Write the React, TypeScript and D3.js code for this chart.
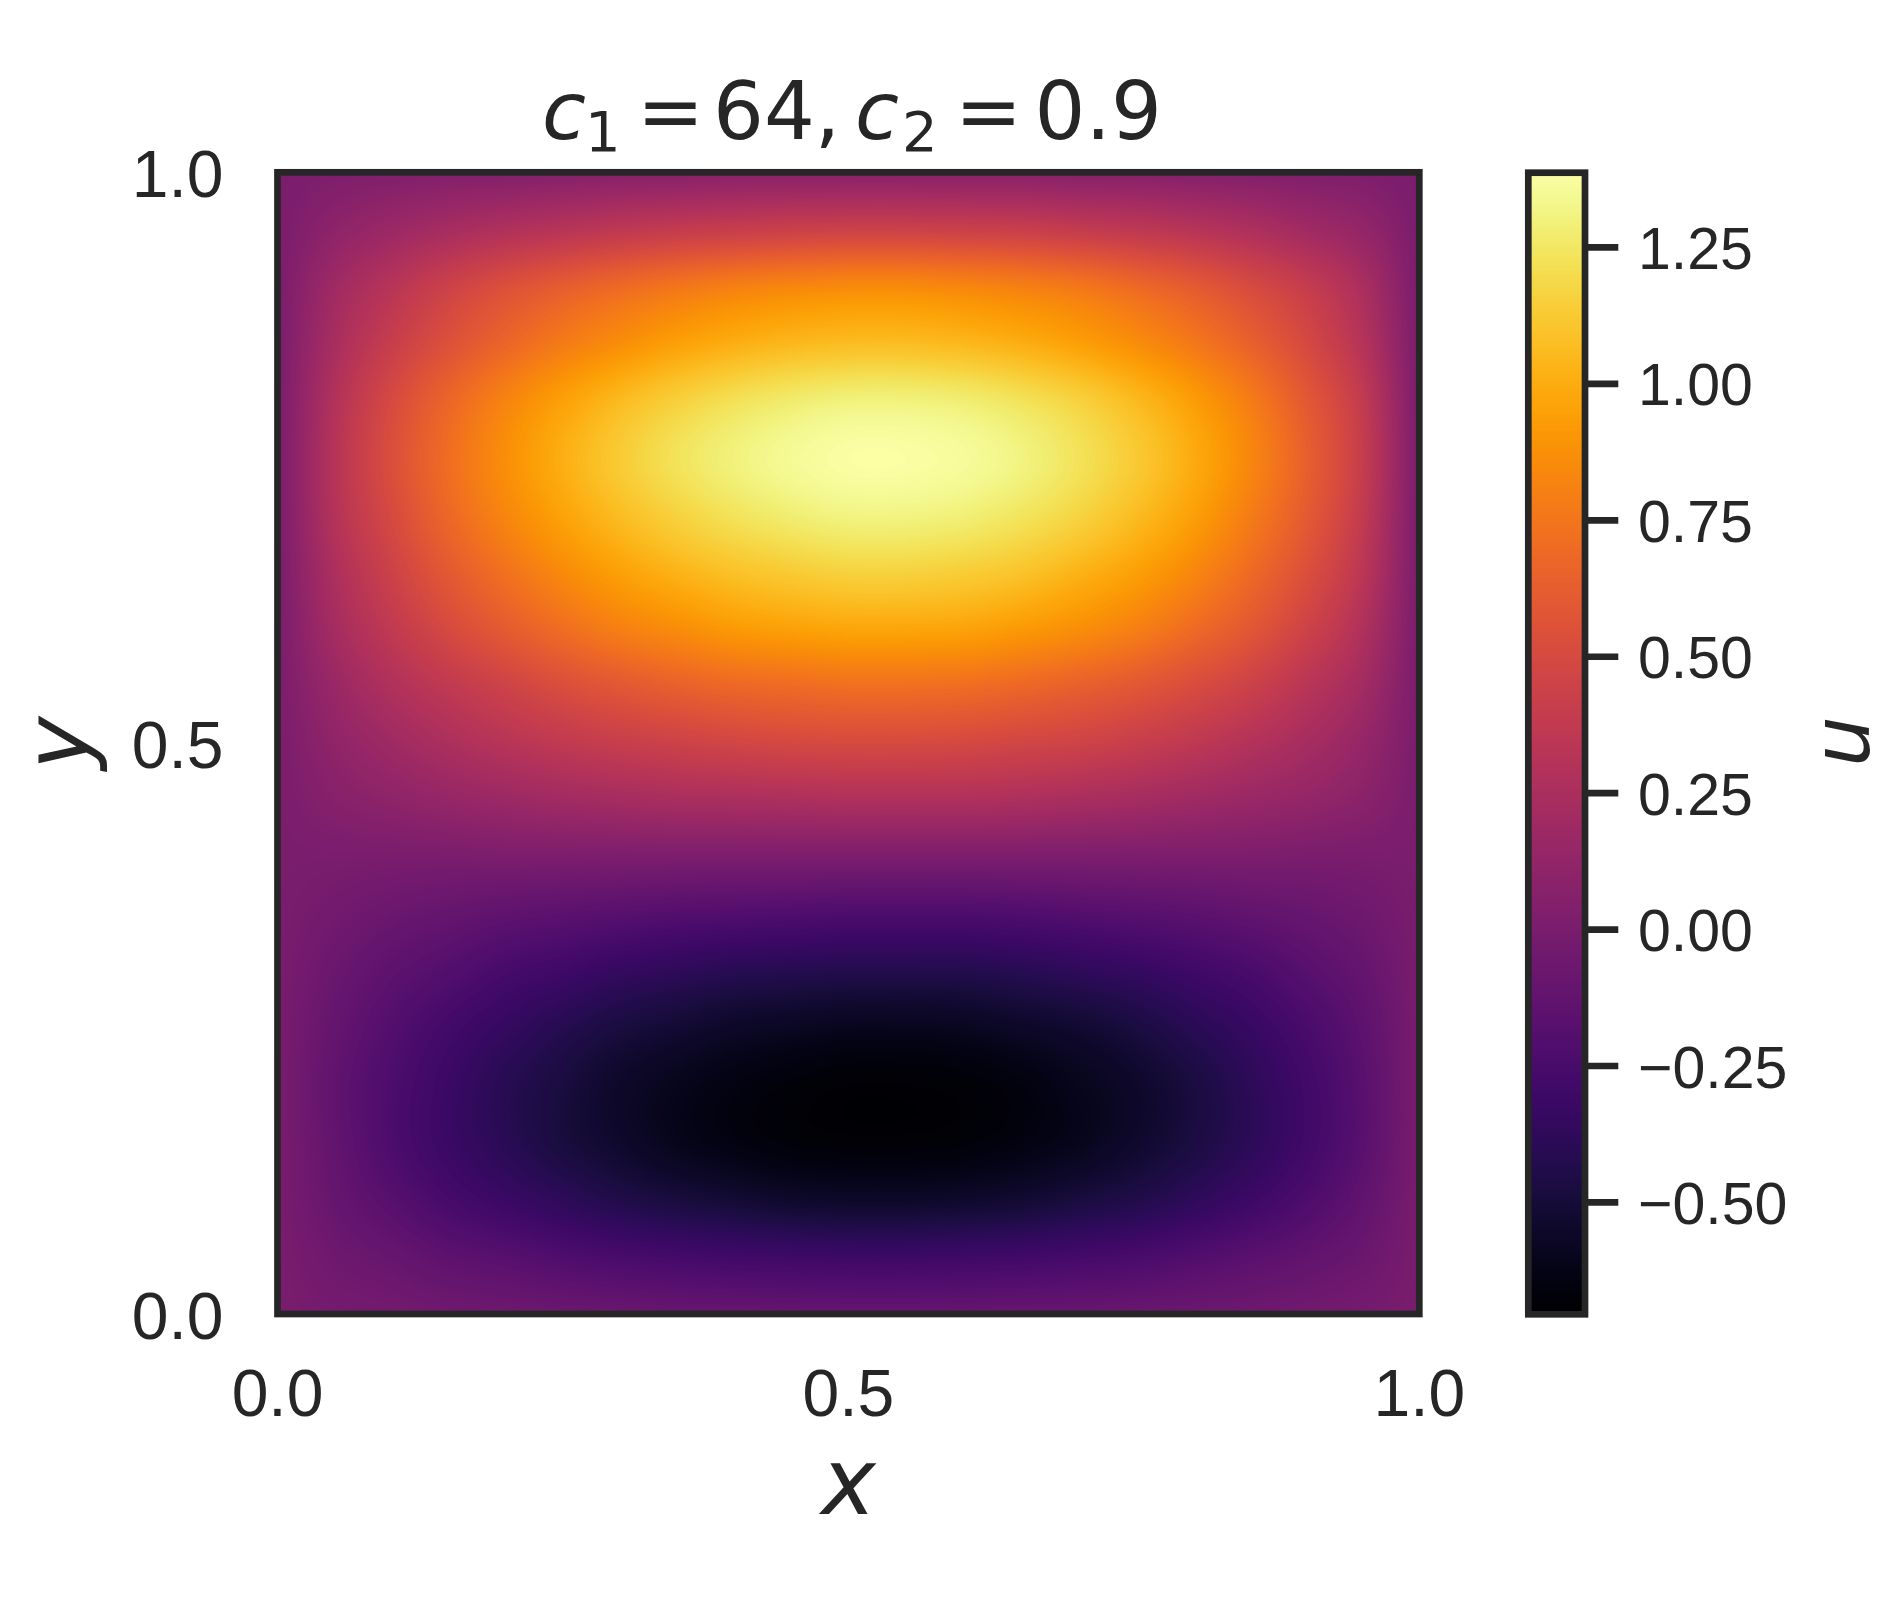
import React, { useMemo } from "react";
import * as d3 from "d3";

// Grid nodes (data coordinates)
const xNodes = [0, 0.05, 0.1, 0.15, 0.2, 0.25, 0.3, 0.35, 0.4, 0.45, 0.5, 0.55, 0.6, 0.65, 0.7, 0.75, 0.8, 0.85, 0.9, 0.95, 1.0];
const yNodes = [0, 0.05, 0.1, 0.15, 0.2, 0.25, 0.3, 0.35, 0.4, 0.45, 0.5, 0.55, 0.6, 0.65, 0.7, 0.75, 0.8, 0.85, 0.9, 0.95, 1.0];

// u(x, y): one row per yNodes entry (bottom to top), one column per xNodes entry
const uGrid = [
  [0, -0.02, -0.03, -0.05, -0.06, -0.07, -0.08, -0.09, -0.09, -0.10, -0.10, -0.10, -0.10, -0.09, -0.09, -0.08, -0.07, -0.06, -0.04, -0.02, 0],
  [0, -0.06, -0.10, -0.15, -0.18, -0.22, -0.25, -0.27, -0.29, -0.30, -0.31, -0.31, -0.30, -0.29, -0.27, -0.25, -0.21, -0.17, -0.13, -0.08, 0],
  [0, -0.10, -0.18, -0.26, -0.32, -0.38, -0.44, -0.48, -0.51, -0.54, -0.55, -0.55, -0.54, -0.52, -0.48, -0.44, -0.38, -0.31, -0.23, -0.13, 0],
  [0, -0.12, -0.23, -0.32, -0.40, -0.48, -0.54, -0.60, -0.64, -0.67, -0.68, -0.68, -0.67, -0.64, -0.60, -0.54, -0.47, -0.39, -0.29, -0.17, 0],
  [0, -0.13, -0.23, -0.32, -0.41, -0.48, -0.55, -0.60, -0.64, -0.67, -0.69, -0.69, -0.68, -0.65, -0.60, -0.55, -0.48, -0.39, -0.29, -0.17, 0],
  [0, -0.11, -0.20, -0.28, -0.35, -0.42, -0.48, -0.52, -0.56, -0.58, -0.60, -0.60, -0.59, -0.56, -0.53, -0.48, -0.41, -0.34, -0.25, -0.15, 0],
  [0, -0.08, -0.15, -0.20, -0.26, -0.30, -0.35, -0.38, -0.41, -0.42, -0.43, -0.43, -0.43, -0.41, -0.38, -0.35, -0.30, -0.25, -0.18, -0.11, 0],
  [0, -0.04, -0.08, -0.11, -0.14, -0.16, -0.18, -0.20, -0.21, -0.22, -0.23, -0.23, -0.23, -0.22, -0.20, -0.18, -0.16, -0.13, -0.10, -0.06, 0],
  [0, 0.00, 0.00, 0.00, 0.01, 0.01, 0.01, 0.01, 0.01, 0.01, 0.01, 0.01, 0.01, 0.01, 0.01, 0.01, 0.01, 0.01, 0.00, 0.00, 0],
  [0, 0.06, 0.10, 0.14, 0.17, 0.20, 0.22, 0.24, 0.25, 0.26, 0.27, 0.27, 0.27, 0.26, 0.24, 0.22, 0.19, 0.16, 0.13, 0.08, 0],
  [0, 0.11, 0.19, 0.26, 0.32, 0.37, 0.41, 0.44, 0.47, 0.49, 0.50, 0.50, 0.49, 0.47, 0.45, 0.41, 0.36, 0.30, 0.23, 0.14, 0],
  [0, 0.16, 0.28, 0.37, 0.45, 0.53, 0.59, 0.64, 0.68, 0.70, 0.72, 0.72, 0.71, 0.68, 0.64, 0.59, 0.52, 0.44, 0.33, 0.21, 0],
  [0, 0.22, 0.37, 0.50, 0.61, 0.71, 0.80, 0.86, 0.92, 0.95, 0.97, 0.97, 0.96, 0.92, 0.87, 0.80, 0.70, 0.59, 0.45, 0.28, 0],
  [0, 0.26, 0.44, 0.60, 0.73, 0.85, 0.95, 1.03, 1.09, 1.13, 1.16, 1.16, 1.14, 1.10, 1.03, 0.95, 0.84, 0.70, 0.54, 0.34, 0],
  [0, 0.30, 0.50, 0.68, 0.83, 0.96, 1.07, 1.16, 1.23, 1.28, 1.31, 1.31, 1.29, 1.24, 1.17, 1.07, 0.95, 0.79, 0.61, 0.38, 0],
  [0, 0.31, 0.53, 0.71, 0.87, 1.01, 1.13, 1.23, 1.30, 1.35, 1.38, 1.38, 1.36, 1.31, 1.23, 1.13, 1.00, 0.84, 0.64, 0.40, 0],
  [0, 0.29, 0.50, 0.67, 0.82, 0.95, 1.06, 1.15, 1.22, 1.27, 1.30, 1.30, 1.28, 1.23, 1.16, 1.06, 0.94, 0.79, 0.60, 0.38, 0],
  [0, 0.24, 0.41, 0.55, 0.67, 0.78, 0.87, 0.95, 1.01, 1.05, 1.07, 1.07, 1.05, 1.01, 0.95, 0.87, 0.77, 0.65, 0.50, 0.31, 0],
  [0, 0.19, 0.32, 0.44, 0.54, 0.62, 0.69, 0.75, 0.80, 0.83, 0.85, 0.85, 0.83, 0.80, 0.76, 0.69, 0.61, 0.51, 0.40, 0.25, 0],
  [0, 0.10, 0.17, 0.23, 0.28, 0.32, 0.36, 0.39, 0.41, 0.43, 0.44, 0.44, 0.43, 0.42, 0.39, 0.36, 0.32, 0.27, 0.20, 0.13, 0],
  [0, 0.02, 0.03, 0.04, 0.04, 0.05, 0.06, 0.06, 0.07, 0.07, 0.07, 0.07, 0.07, 0.07, 0.06, 0.06, 0.05, 0.04, 0.03, 0.02, 0],
];

const xTicks = [0.0, 0.5, 1.0];
const yTicks = [0.0, 0.5, 1.0];
const colorTicks = [-0.5, -0.25, 0.0, 0.25, 0.5, 0.75, 1.0, 1.25];
const colorDomain = [-0.705, 1.387];

const INK = "#262626";
const SANS = "'Liberation Sans', Arial, sans-serif";
const MATH = "'DejaVu Sans', sans-serif";

// layout
const AX = { left: 277.5, right: 1419.3, top: 172.3, bottom: 1314 };
const CB = { left: 1528.3, right: 1585, top: 172.7, bottom: 1314.3 };
const SPINE = 6.7;

function cubic(p0: number, p1: number, p2: number, p3: number, t: number) {
  const t2 = t * t, t3 = t2 * t;
  return 0.5 * (2 * p1 + (-p0 + p2) * t + (2 * p0 - 5 * p1 + 4 * p2 - p3) * t2 + (-p0 + 3 * p1 - 3 * p2 + p3) * t3);
}

function interp1(nodes: number[], vals: number[], x: number) {
  const n = nodes.length;
  const step = (nodes[n - 1] - nodes[0]) / (n - 1);
  let f = (x - nodes[0]) / step;
  let i = Math.floor(f);
  if (i < 0) i = 0;
  if (i > n - 2) i = n - 2;
  const t = f - i;
  const p1 = vals[i], p2 = vals[i + 1];
  const p0 = i > 0 ? vals[i - 1] : 2 * p1 - p2;
  const p3 = i + 2 < n ? vals[i + 2] : 2 * p2 - p1;
  return cubic(p0, p1, p2, p3, t);
}

function makeLUT(color: d3.ScaleSequential<string>) {
  const N = 1024;
  const lut = new Uint8ClampedArray(N * 3);
  const [a, b] = color.domain();
  for (let k = 0; k < N; k++) {
    const c = d3.rgb(color(a + ((b - a) * k) / (N - 1)));
    lut[k * 3] = c.r; lut[k * 3 + 1] = c.g; lut[k * 3 + 2] = c.b;
  }
  return lut;
}

export default function App() {
  const xScale = d3.scaleLinear().domain([0, 1]).range([AX.left, AX.right]);
  const yScale = d3.scaleLinear().domain([0, 1]).range([AX.bottom, AX.top]);
  const cScale = d3.scaleLinear().domain(colorDomain).range([CB.bottom, CB.top]);
  const color = d3.scaleSequential(d3.interpolateInferno).domain(colorDomain as [number, number]).clamp(true);

  const { heatUrl, barUrl } = useMemo(() => {
    const lut = makeLUT(color);
    const [a, b] = colorDomain;
    const idx = (v: number) => {
      let k = Math.round(((v - a) / (b - a)) * 1023);
      if (k < 0) k = 0; if (k > 1023) k = 1023;
      return k * 3;
    };
    const W = Math.round(xScale(1) - xScale(0));
    const H = Math.round(yScale(0) - yScale(1));
    const cv = document.createElement("canvas");
    cv.width = W; cv.height = H;
    const ctx = cv.getContext("2d")!;
    const img = ctx.createImageData(W, H);
    // interpolate each grid row along x
    const rowsAtPx: Float64Array[] = [];
    for (let px = 0; px < W; px++) {
      const xd = (px + 0.5) / W;
      const col = new Float64Array(yNodes.length);
      for (let r = 0; r < yNodes.length; r++) col[r] = interp1(xNodes, uGrid[r], xd);
      rowsAtPx.push(col);
    }
    for (let py = 0; py < H; py++) {
      const yd = 1 - (py + 0.5) / H;
      for (let px = 0; px < W; px++) {
        const v = interp1(yNodes, rowsAtPx[px] as unknown as number[], yd);
        const k = idx(v);
        const o = (py * W + px) * 4;
        img.data[o] = lut[k]; img.data[o + 1] = lut[k + 1]; img.data[o + 2] = lut[k + 2]; img.data[o + 3] = 255;
      }
    }
    ctx.putImageData(img, 0, 0);
    const heatUrl = cv.toDataURL();

    const bh = Math.round(CB.bottom - CB.top);
    const bc = document.createElement("canvas");
    bc.width = 4; bc.height = bh;
    const bctx = bc.getContext("2d")!;
    const bimg = bctx.createImageData(4, bh);
    for (let py = 0; py < bh; py++) {
      const v = b - ((py + 0.5) / bh) * (b - a);
      const k = idx(v);
      for (let px = 0; px < 4; px++) {
        const o = (py * 4 + px) * 4;
        bimg.data[o] = lut[k]; bimg.data[o + 1] = lut[k + 1]; bimg.data[o + 2] = lut[k + 2]; bimg.data[o + 3] = 255;
      }
    }
    bctx.putImageData(bimg, 0, 0);
    return { heatUrl, barUrl: bc.toDataURL() };
  }, []);

  const fmtAxis = d3.format(".1f");
  const fmtBar = (v: number) => d3.format(".2f")(v).replace("-", "\u2212");

  return (
    <svg width={1896} height={1600} style={{ position: "absolute", left: 0, top: 0, display: "block", background: "#ffffff" }}>
      <rect x={0} y={0} width={1896} height={1600} fill="#ffffff" />
      {/* heatmap */}
      <image href={heatUrl} x={xScale(0)} y={yScale(1)} width={xScale(1) - xScale(0)} height={yScale(0) - yScale(1)} preserveAspectRatio="none" />
      <rect x={AX.left} y={AX.top} width={AX.right - AX.left} height={AX.bottom - AX.top} fill="none" stroke={INK} strokeWidth={SPINE} />

      {/* x tick labels */}
      {xTicks.map((t) => (
        <text key={"xt" + t} x={xScale(t)} y={1416} textAnchor="middle" fontFamily={SANS} fontSize={66} fill={INK}>{fmtAxis(t)}</text>
      ))}
      {/* y tick labels */}
      {yTicks.map((t) => (
        <text key={"yt" + t} x={223.5} y={yScale(t) + 25} textAnchor="end" fontFamily={SANS} fontSize={66} fill={INK}>{fmtAxis(t)}</text>
      ))}

      {/* axis labels */}
      <text x={(AX.left + AX.right) / 2} y={1514} textAnchor="middle" fontFamily={MATH} fontStyle="italic" fontSize={92} fill={INK}>x</text>
      <text transform={`translate(87.6, ${(AX.top + AX.bottom) / 2}) rotate(-90)`} textAnchor="middle" fontFamily={MATH} fontStyle="italic" fontSize={90} fill={INK}>y</text>

      {/* title */}
      <text fontFamily={MATH} fontSize={80} fill={INK}>
        <tspan x={542} y={139} fontStyle="italic">c</tspan>
        <tspan x={585} y={150.7} fontSize={56}>1</tspan>
        <tspan x={637} y={139}>=</tspan>
        <tspan x={713} y={139}>64,</tspan>
        <tspan x={855} y={139} fontStyle="italic">c</tspan>
        <tspan x={902} y={150.7} fontSize={56}>2</tspan>
        <tspan x={955} y={139}>=</tspan>
        <tspan x={1034.6} y={139}>0.9</tspan>
      </text>

      {/* colorbar */}
      <image href={barUrl} x={CB.left} y={CB.top} width={CB.right - CB.left} height={CB.bottom - CB.top} preserveAspectRatio="none" />
      <rect x={CB.left} y={CB.top} width={CB.right - CB.left} height={CB.bottom - CB.top} fill="none" stroke={INK} strokeWidth={SPINE} />
      {colorTicks.map((t) => (
        <g key={"ct" + t}>
          <line x1={CB.right} x2={1618.3} y1={cScale(t)} y2={cScale(t)} stroke={INK} strokeWidth={SPINE} />
          <text x={1638} y={cScale(t) + 21.5} fontFamily={SANS} fontSize={59} fill={INK}>{fmtBar(t)}</text>
        </g>
      ))}
      <text transform={`translate(1869, 741.5) rotate(-90)`} textAnchor="middle" fontFamily={MATH} fontStyle="italic" fontSize={80} fill={INK}>u</text>
    </svg>
  );
}
